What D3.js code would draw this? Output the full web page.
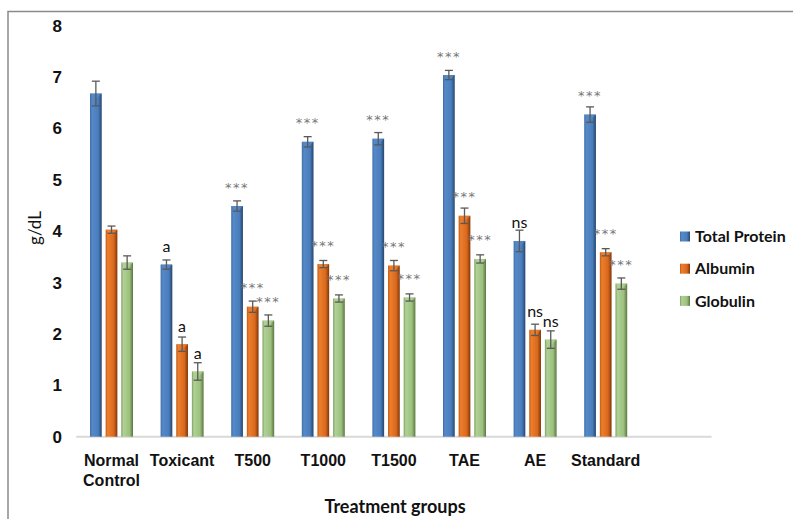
<!DOCTYPE html>
<html lang="en">
<head>
<meta charset="utf-8">
<title>Serum proteins per treatment group</title>
<style>
body { margin: 0; background: #fff; }
svg { display: block; font-family: Lato, "Open Sans", sans-serif; }
.axis text { font-size: 16px; font-weight: bold; fill: #111; }
.yaxis text { font-size: 17px; }
.legend text { font-size: 16px; font-weight: bold; fill: #111; }
</style>
</head>
<body>
<svg width="793" height="519"></svg>
<script src="https://cdn.jsdelivr.net/npm/d3@7"></script>
<script>

// groups on the x axis
const groups = ['Normal Control', 'Toxicant', 'T500', 'T1000', 'T1500', 'TAE', 'AE', 'Standard'];
const seriesNames = ['Total Protein', 'Albumin', 'Globulin'];

// means (g/dL)
const totalProtein = [6.68, 3.35, 4.49, 5.74, 5.80, 7.04, 3.81, 6.27];
const albumin      = [4.03, 1.80, 2.53, 3.36, 3.33, 4.30, 2.08, 3.59];
const globulin     = [3.39, 1.27, 2.26, 2.69, 2.71, 3.46, 1.89, 2.98];

// error bars (+/-)
const totalProteinErr = [0.24, 0.09, 0.10, 0.10, 0.12, 0.09, 0.21, 0.15];
const albuminErr      = [0.07, 0.14, 0.11, 0.07, 0.10, 0.15, 0.11, 0.07];
const globulinErr     = [0.13, 0.17, 0.11, 0.07, 0.07, 0.08, 0.17, 0.11];

// significance label for each group (same for the three bars)
const sigLabels = ['', 'a', '***', '***', '***', '***', 'ns', '***'];

const yTicks = [0, 1, 2, 3, 4, 5, 6, 7, 8];

const svg = d3.select('svg');

// chart frame (only left & top visible in the picture)
svg.append('rect')
  .attr('x', 8).attr('y', 11.5)
  .attr('width', 820).attr('height', 540)
  .attr('fill', 'none')
  .attr('stroke', '#8a8a8a')
  .attr('stroke-width', 1.5);

// gradients to fake the excel bevel look
const colors = {
  'Total Protein': ['#3d6da6', '#5589c7', '#4a7dbb', '#24466f'],
  'Albumin':       ['#c25a12', '#ec7f2e', '#d9681c', '#7e3507'],
  'Globulin':      ['#7f9f62', '#b0d196', '#9cc07d', '#5b7642']
};
const defs = svg.append('defs');
seriesNames.forEach((s, i) => {
  const g = defs.append('linearGradient')
    .attr('id', 'grad' + i)
    .attr('x1', '0%').attr('x2', '100%').attr('y1', '0%').attr('y2', '0%');
  const c = colors[s];
  g.append('stop').attr('offset', '0%').attr('stop-color', c[0]);
  g.append('stop').attr('offset', '18%').attr('stop-color', c[1]);
  g.append('stop').attr('offset', '70%').attr('stop-color', c[2]);
  g.append('stop').attr('offset', '100%').attr('stop-color', c[3]);
});

const x0 = d3.scaleBand().domain(groups).range([76.2, 76.2 + 70.6 * groups.length]);
const barsSpan = 43;
const x1 = d3.scaleBand().domain(seriesNames).range([0, barsSpan]).paddingInner(0.25);
const y = d3.scaleLinear().domain([0, 8]).range([436.7, 25.7]);

const data = groups.map((g, i) => ({
  group: g,
  sig: sigLabels[i],
  inner: [
    {type: 'Total Protein', idx: 0, v: totalProtein[i], e: totalProteinErr[i]},
    {type: 'Albumin',       idx: 1, v: albumin[i],      e: albuminErr[i]},
    {type: 'Globulin',      idx: 2, v: globulin[i],     e: globulinErr[i]}
  ]
}));

// y axis: labels only
const yAxis = svg.append('g')
  .attr('class', 'axis yaxis')
  .attr('transform', 'translate(66,0)')
  .call(d3.axisLeft(y).tickValues(yTicks).tickSize(0).tickPadding(4).tickFormat(d3.format('d')));
yAxis.select('.domain').remove();

// baseline (excel leaves room for one empty slot at the right)
svg.append('line')
  .attr('x1', x0.range()[0])
  .attr('x2', x0.range()[1] + x0.step())
  .attr('y1', y(0)).attr('y2', y(0))
  .attr('stroke', '#d9d9d9')
  .attr('stroke-width', 2);

const groupG = svg.append('g')
  .selectAll('g')
  .data(data)
  .enter().append('g')
    .attr('transform', d => 'translate(' + (x0(d.group) + (x0.bandwidth() - barsSpan) / 2) + ',0)');

const barG = groupG.selectAll('g')
  .data(d => d.inner.map(b => Object.assign({sig: d.sig}, b)))
  .enter().append('g');

barG.append('rect')
  .attr('x', d => x1(d.type))
  .attr('y', d => y(d.v))
  .attr('width', x1.bandwidth())
  .attr('height', d => y(0) - y(d.v))
  .attr('fill', d => 'url(#grad' + d.idx + ')');

// little bevel triangle at the top
barG.append('path')
  .attr('d', d => {
    const x = x1(d.type), w = x1.bandwidth(), t = y(d.v);
    return 'M' + x + ',' + t + 'L' + (x + w) + ',' + t + 'L' + (x + w / 2) + ',' + (t + w / 2) + 'Z';
  })
  .attr('fill', d => colors[d.type][1])
  .attr('opacity', 0.7);

// error bars
const errColor = '#595959';
barG.append('line')
  .attr('x1', d => x1(d.type) + x1.bandwidth() / 2)
  .attr('x2', d => x1(d.type) + x1.bandwidth() / 2)
  .attr('y1', d => y(d.v + d.e))
  .attr('y2', d => y(d.v - d.e))
  .attr('stroke', errColor).attr('stroke-width', 1.3);
[1, -1].forEach(sgn => {
  barG.append('line')
    .attr('x1', d => x1(d.type) + x1.bandwidth() / 2 - 4)
    .attr('x2', d => x1(d.type) + x1.bandwidth() / 2 + 4)
    .attr('y1', d => y(d.v + sgn * d.e))
    .attr('y2', d => y(d.v + sgn * d.e))
    .attr('stroke', errColor).attr('stroke-width', 1.3);
});

// significance labels
barG.filter(d => d.sig !== '')
  .append('text')
  .attr('x', d => x1(d.type) + x1.bandwidth() / 2)
  .attr('y', d => d.sig === '***' ? y(d.v) - 14.5 : y(d.v) - 12.5)
  .attr('text-anchor', 'middle')
  .attr('font-family', d => d.sig === '***' ? '"DejaVu Sans", sans-serif' : null)
  .attr('font-size', d => d.sig === '***' ? 13 : 16)
  .attr('letter-spacing', d => d.sig === '***' ? 1.5 : 0)
  .attr('fill', d => d.sig === '***' ? '#777' : '#111')
  .text(d => d.sig);

// x axis labels
const xAxis = svg.append('g')
  .attr('class', 'axis')
  .attr('transform', 'translate(0,' + y(0) + ')')
  .call(d3.axisBottom(x0).tickSize(0).tickPadding(0).tickFormat(''));
xAxis.select('.domain').remove();
xAxis.selectAll('.tick').each(function(d) {
  const words = d.split(' ');
  const t = d3.select(this).append('text')
    .attr('text-anchor', 'middle')
    .attr('fill', '#111');
  words.forEach((w, i) => {
    t.append('tspan').attr('x', 0).attr('y', 29 + i * 20).text(w);
  });
});

// axis titles
svg.append('text')
  .attr('transform', 'translate(41,228) rotate(-90)')
  .attr('text-anchor', 'middle')
  .attr('font-size', 17)
  .attr('fill', '#111')
  .text('g/dL');

svg.append('text')
  .attr('x', 395).attr('y', 513)
  .attr('text-anchor', 'middle')
  .attr('font-size', 18)
  .attr('font-weight', 'bold')
  .attr('fill', '#111')
  .text('Treatment groups');

// legend
const legend = svg.append('g')
  .attr('class', 'legend')
  .selectAll('g')
  .data(seriesNames)
  .enter().append('g')
    .attr('transform', (d, i) => 'translate(680,' + (236.5 + i * 32.2) + ')');

legend.append('rect')
  .attr('x', 0).attr('y', -5)
  .attr('width', 10).attr('height', 10)
  .attr('fill', (d, i) => 'url(#grad' + i + ')');

legend.append('text')
  .attr('x', 15)
  .attr('y', 0)
  .attr('dy', '0.35em')
  .text(d => d);

</script>
</body>
</html>
